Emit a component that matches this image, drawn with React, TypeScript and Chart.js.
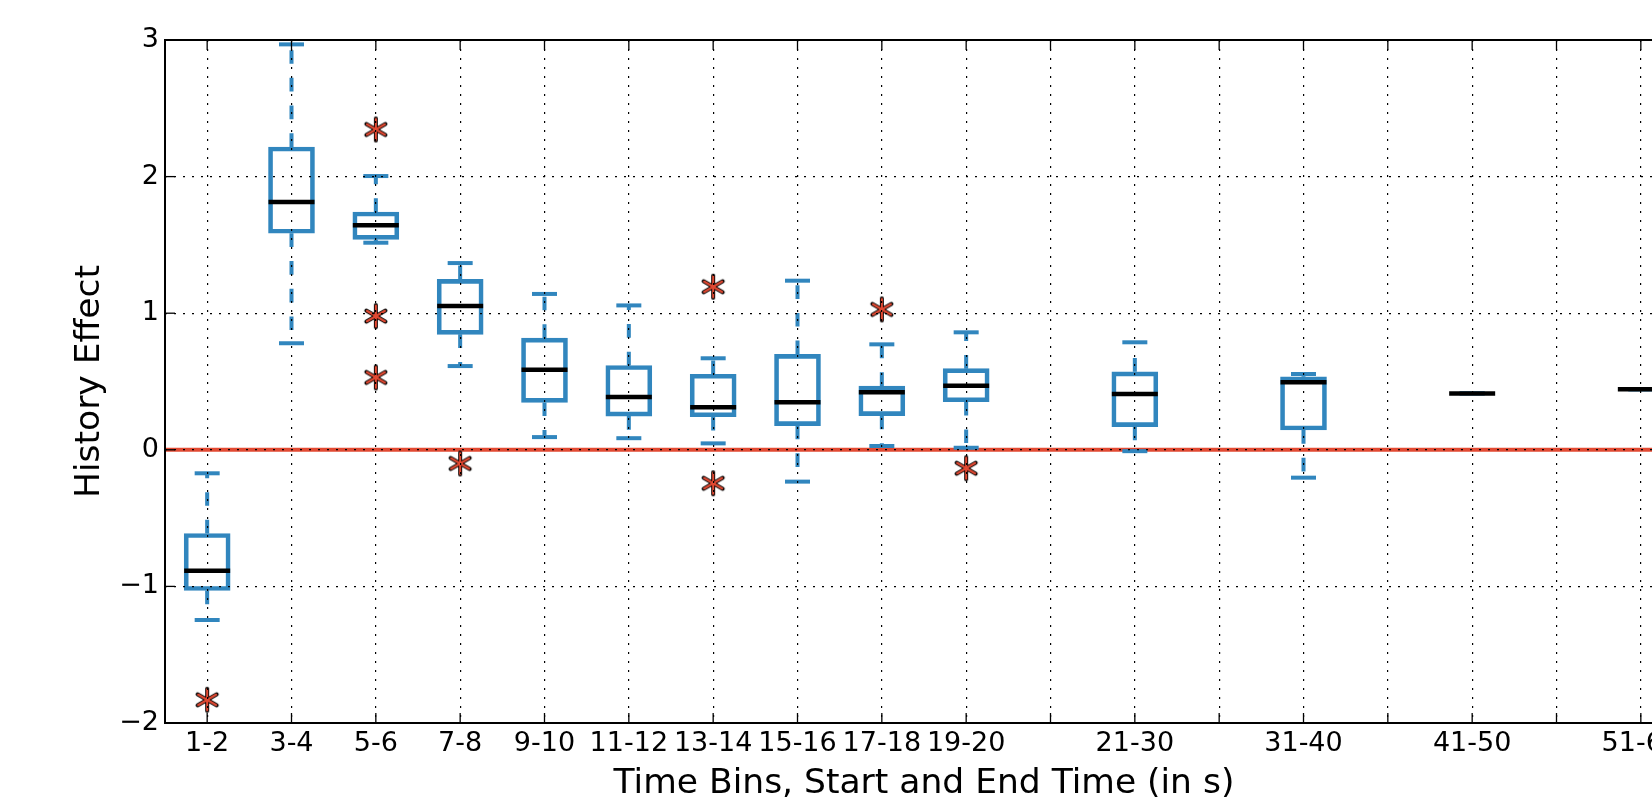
import React, { useEffect, useRef } from 'react';
import { Chart, registerables } from 'chart.js';

Chart.register(...registerables);

// ---- data ----
const binLabels = ['1-2', '3-4', '5-6', '7-8', '9-10', '11-12', '13-14', '15-16', '17-18', '19-20', '21-30', '31-40', '41-50', '51-60'];
const binPositions = [1, 2, 3, 4, 5, 6, 7, 8, 9, 10, 12, 14, 16, 18];
const whiskerLow = [-1.246, 0.78, 1.516, 0.613, 0.093, 0.085, 0.047, -0.233, 0.028, 0.015, -0.01, -0.204, 0.413, 0.443];
const boxQ1 = [-1.03, 1.585, 1.54, 0.845, 0.347, 0.247, 0.242, 0.177, 0.25, 0.352, 0.17, 0.145, 0.413, 0.443];
const medians = [-0.885, 1.814, 1.643, 1.053, 0.586, 0.386, 0.311, 0.348, 0.421, 0.469, 0.409, 0.494, 0.413, 0.443];
const boxQ3 = [-0.613, 2.217, 1.741, 1.248, 0.818, 0.617, 0.553, 0.699, 0.467, 0.594, 0.571, 0.535, 0.413, 0.443];
const whiskerHigh = [-0.172, 2.968, 2.004, 1.367, 1.141, 1.057, 0.67, 1.238, 0.772, 0.86, 0.787, 0.555, 0.413, 0.443];
const outlierPositions = [1, 3, 3, 3, 4, 7, 7, 9, 10];
const outlierValues = [-1.83, 2.345, 0.979, 0.53, -0.1, 1.194, -0.245, 1.028, -0.135];
const xTickPositions = [1, 2, 3, 4, 5, 6, 7, 8, 9, 10, 11, 12, 13, 14, 15, 16, 17, 18];
const yTickValues = [-2, -1, 0, 1, 2, 3];
const referenceLevel = 0;

const xTitle = 'Time Bins, Start and End Time (in s)';
const yTitle = 'History Effect';

const BLUE = '#3186BE';
const RED = '#E24A33';
const FONT = "'DejaVu Sans', 'Liberation Sans', sans-serif";

function makeAsterisk(): HTMLCanvasElement {
  const c = document.createElement('canvas');
  c.width = 28;
  c.height = 28;
  const g = c.getContext('2d')!;
  const cx = 14, cy = 14, r = 11;
  const angles = [90, 30, 150].map((a) => (a * Math.PI) / 180);
  const stroke = (color: string, w: number, rr: number) => {
    g.strokeStyle = color;
    g.lineWidth = w;
    g.lineCap = 'round';
    for (const a of angles) {
      g.beginPath();
      g.moveTo(cx - Math.cos(a) * rr, cy - Math.sin(a) * rr);
      g.lineTo(cx + Math.cos(a) * rr, cy + Math.sin(a) * rr);
      g.stroke();
    }
  };
  stroke('#000', 4, r);
  stroke(RED, 2.2, r - 0.6);
  return c;
}

const framePlugin = {
  id: 'frameTicks',
  afterDraw(chart: any) {
    const { ctx, chartArea: a, scales } = chart;
    const L = 10;
    ctx.save();
    ctx.strokeStyle = '#000';
    ctx.lineWidth = 1.3;
    const seg = (x1: number, y1: number, x2: number, y2: number) => {
      ctx.beginPath();
      ctx.moveTo(x1, y1);
      ctx.lineTo(x2, y2);
      ctx.stroke();
    };
    for (const t of scales.x.ticks) {
      const px = scales.x.getPixelForValue(t.value);
      seg(px, a.bottom, px, a.bottom - L);
      seg(px, a.top, px, a.top + L);
    }
    for (const t of scales.y.ticks) {
      const py = scales.y.getPixelForValue(t.value);
      seg(a.left, py, a.left + L, py);
      seg(a.right, py, a.right - L, py);
    }
    ctx.lineWidth = 2;
    ctx.strokeRect(a.left, a.top, a.right - a.left, a.bottom - a.top);
    ctx.restore();
  },
};

export default function App() {
  const ref = useRef<HTMLCanvasElement | null>(null);

  useEffect(() => {
    if (!ref.current) return;
    const asterisk = makeAsterisk();

    const boxes = binPositions.map((p, i) => ({ x: p, y: [boxQ1[i], boxQ3[i]] }));
    const whiskers: any[] = [];
    binPositions.forEach((p, i) => {
      whiskers.push({ x: p, y: boxQ3[i] }, { x: p, y: whiskerHigh[i] }, { x: p, y: null });
      whiskers.push({ x: p, y: boxQ1[i] }, { x: p, y: whiskerLow[i] }, { x: p, y: null });
    });
    const caps: any[] = [];
    binPositions.forEach((p, i) => {
      caps.push({ x: p, y: whiskerHigh[i] }, { x: p, y: whiskerLow[i] });
    });
    const meds = binPositions.map((p, i) => ({ x: p, y: medians[i] }));
    const outs = outlierPositions.map((p, i) => ({ x: p, y: outlierValues[i] }));
    const xMin = binPositions[0] - 0.5;
    const xMax = binPositions[binPositions.length - 1] + 0.5;

    const chart = new Chart(ref.current, {
      type: 'bar',
      data: {
        datasets: [
          {
            type: 'scatter',
            data: meds,
            pointStyle: 'line',
            pointRadius: 23,
            pointBorderWidth: 4.5,
            borderColor: '#000',
            backgroundColor: '#000',
            showLine: false,
          } as any,
          {
            type: 'scatter',
            data: outs,
            pointStyle: asterisk,
            pointRadius: 12,
            showLine: false,
          } as any,
          {
            type: 'scatter',
            data: caps,
            pointStyle: 'line',
            pointRadius: 12.5,
            pointBorderWidth: 4,
            borderColor: BLUE,
            backgroundColor: BLUE,
            showLine: false,
          } as any,
          {
            type: 'bar',
            data: boxes,
            backgroundColor: 'rgba(0,0,0,0)',
            borderColor: BLUE,
            borderWidth: 4,
            borderSkipped: false,
            barThickness: 46,
          } as any,
          {
            type: 'line',
            data: whiskers,
            borderColor: BLUE,
            borderWidth: 4,
            borderDash: [13.7, 14],
            borderCapStyle: 'butt',
            pointRadius: 0,
            spanGaps: false,
            fill: false,
          } as any,
          {
            type: 'line',
            data: [
              { x: xMin, y: referenceLevel },
              { x: xMax, y: referenceLevel },
            ],
            borderColor: RED,
            borderWidth: 4,
            pointRadius: 0,
            fill: false,
          } as any,
        ],
      },
      options: {
        animation: false,
        responsive: false,
        devicePixelRatio: 1,
        layout: { padding: { top: 40, right: 37, left: 0, bottom: 0 } },
        plugins: { legend: { display: false }, tooltip: { enabled: false } },
        scales: {
          x: {
            type: 'linear',
            min: xMin,
            max: xMax,
            offset: false,
            afterBuildTicks: (s: any) => {
              s.ticks = xTickPositions.map((v) => ({ value: v }));
            },
            afterFit: (s: any) => {
              s.height = 97;
            },
            ticks: {
              color: '#000',
              font: { family: FONT, size: 27 },
              padding: 4.5,
              maxRotation: 0,
              autoSkip: false,
              callback: (v: any) => {
                const i = binPositions.indexOf(Number(v));
                return i >= 0 ? binLabels[i] : '';
              },
            },
            grid: { color: '#000', lineWidth: 1.2, drawTicks: false, offset: false, z: 1 },
            border: { display: false, dash: [2, 7] },
            title: {
              display: true,
              text: xTitle,
              color: '#000',
              font: { family: FONT, size: 34.5, lineHeight: 1.2 },
              padding: { top: 0, bottom: 15.2 },
            },
          },
          y: {
            type: 'linear',
            min: yTickValues[0],
            max: yTickValues[yTickValues.length - 1],
            afterBuildTicks: (s: any) => {
              s.ticks = yTickValues.map((v) => ({ value: v }));
            },
            afterFit: (s: any) => {
              s.width = 165;
            },
            ticks: {
              color: '#000',
              font: { family: FONT, size: 27 },
              padding: 6,
              callback: (v: any) => (Number(v) < 0 ? '\u2212' + Math.abs(Number(v)) : String(v)),
            },
            grid: { color: '#000', lineWidth: 1.2, drawTicks: false, z: 1 },
            border: { display: false, dash: [2, 7] },
            title: {
              display: true,
              text: yTitle,
              color: '#000',
              font: { family: FONT, size: 34.5, lineHeight: 1.2 },
              padding: { top: 69, bottom: 0 },
            },
          },
        },
      },
      plugins: [framePlugin],
    } as any);

    return () => chart.destroy();
  }, []);

  return (
    <div
      style={{
        position: 'fixed',
        left: 0,
        top: 0,
        width: 1652,
        height: 800,
        overflow: 'hidden',
        background: '#fff',
      }}
    >
      <canvas ref={ref} width={1720} height={820} style={{ display: 'block', width: 1720, height: 820 }} />
    </div>
  );
}
